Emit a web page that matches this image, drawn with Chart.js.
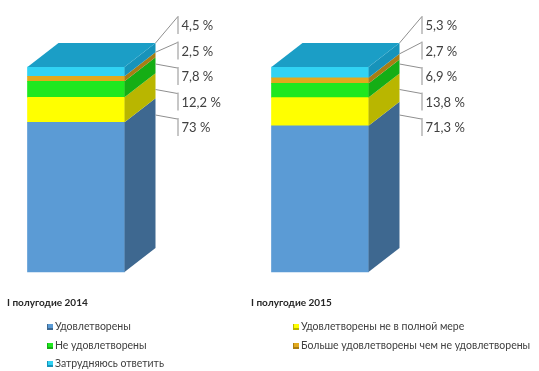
<!DOCTYPE html>
<html>
<head>
<meta charset="utf-8">
<script src="https://cdn.jsdelivr.net/npm/chart.js@4/dist/chart.umd.min.js"></script>
<style>
  body { margin: 0; background: #fff; }
  #wrap { width: 539px; height: 371px; position: relative; }
</style>
</head>
<body>
<div id="wrap"><canvas id="chart"></canvas></div>
<script>
var periods = ['I полугодие 2014', 'I полугодие 2015'];
var seriesNames = [
    'Удовлетворены',
    'Удовлетворены не в полной мере',
    'Не удовлетворены',
    'Больше удовлетворены чем не удовлетворены',
    'Затрудняюсь ответить'
];
var satisfied    = [73, 71.3];
var partly       = [12.2, 13.8];
var notSatisfied = [7.8, 6.9];
var moreYes      = [2.5, 2.7];
var cantSay      = [4.5, 5.3];

var frontColors = ['#5b9bd5', '#ffff00', '#1fe81f', '#e2a91c', '#31d3f3'];
var sideColors  = ['#3e6890', '#b9b600', '#15ae15', '#a87d14', '#1793ba'];
var topColor = '#1b9ec6';

var DX = 31, DY = 24;

function fmt(v) {
    return String(v).replace('.', ',') + ' %';
}

// side and top faces of the boxes, plus bracket-style value labels
var boxes = {
    id: 'boxes',
    afterDatasetsDraw: function (chart) {
        var ctx = chart.ctx;
        var n = chart.data.datasets.length;
        ctx.save();
        for (var d = 0; d < n; d++) {
            var meta = chart.getDatasetMeta(d);
            meta.data.forEach(function (bar) {
                var r = bar.x + bar.width / 2, l = bar.x - bar.width / 2;
                ctx.fillStyle = sideColors[d];
                ctx.beginPath();
                ctx.moveTo(r, bar.y);
                ctx.lineTo(r + DX, bar.y - DY);
                ctx.lineTo(r + DX, bar.base - DY);
                ctx.lineTo(r, bar.base);
                ctx.closePath();
                ctx.fill();
                if (d === n - 1) {
                    ctx.fillStyle = topColor;
                    ctx.beginPath();
                    ctx.moveTo(l, bar.y);
                    ctx.lineTo(l + DX, bar.y - DY);
                    ctx.lineTo(r + DX, bar.y - DY);
                    ctx.lineTo(r, bar.y);
                    ctx.closePath();
                    ctx.fill();
                }
            });
        }

        // value labels, listed top segment first
        ctx.textBaseline = 'middle';
        ctx.textAlign = 'left';
        periods.forEach(function (p, i) {
            var topBar = chart.getDatasetMeta(n - 1).data[i];
            var backX = topBar.x + topBar.width / 2 + DX;
            var lineX = backX + 22;
            var y0 = topBar.y - DY - 18;
            ctx.font = '13px Lato';
            for (var k = 0; k < n; k++) {
                var d = n - 1 - k;
                var bar = chart.getDatasetMeta(d).data[i];
                var ly = y0 + k * 25.5;
                var segTop = bar.y - DY, segBot = bar.base - DY;
                var ay = Math.min(Math.max(ly - 12, segTop), segBot);
                ctx.strokeStyle = '#8f8f8f';
                ctx.lineWidth = 1;
                ctx.beginPath();
                ctx.moveTo(backX, ay);
                ctx.lineTo(lineX, ly - 8);
                ctx.moveTo(lineX + 0.5, ly - 9);
                ctx.lineTo(lineX + 0.5, ly + 9);
                ctx.stroke();
                ctx.fillStyle = '#404040';
                ctx.fillText(fmt(chart.data.datasets[d].data[i]), lineX + 4, ly + 1);
            }
            // period caption under each box
            var base = chart.getDatasetMeta(0).data[i];
            ctx.font = 'bold 10px Lato';
            ctx.fillStyle = '#262626';
            ctx.fillText(p, base.x - 69, 303);
        });

        // legend in two columns
        ctx.font = '10.5px Lato';
        var cols = [47, 293], rows = [327, 346, 364];
        for (var s = 0; s < n; s++) {
            var cx = cols[s % 2], cy = rows[Math.floor(s / 2)];
            ctx.fillStyle = sideColors[s];
            ctx.fillRect(cx, cy - 3, 6, 6);
            ctx.fillStyle = frontColors[s];
            ctx.fillRect(cx + 1, cy - 3, 5, 4);
            ctx.fillStyle = '#404040';
            ctx.fillText(seriesNames[s], cx + 8, cy);
        }
        ctx.restore();
    }
};

var sets = [satisfied, partly, notSatisfied, moreYes, cantSay];

new Chart(document.getElementById('chart'), {
    type: 'bar',
    data: {
        labels: periods,
        datasets: sets.map(function (vals, i) {
            return {
                label: seriesNames[i],
                data: vals,
                backgroundColor: frontColors[i],
                borderWidth: 0,
                barThickness: 97,
                clip: false
            };
        })
    },
    options: {
        responsive: true,
        maintainAspectRatio: false,
        animation: false,
        layout: { padding: { left: 76, right: 219, top: 67, bottom: 99 } },
        scales: {
            x: { stacked: true, offset: false, display: false },
            y: { stacked: true, min: 0, max: 100, display: false }
        },
        plugins: {
            legend: { display: false },
            tooltip: { enabled: false }
        }
    },
    plugins: [boxes]
});
</script>
</body>
</html>
